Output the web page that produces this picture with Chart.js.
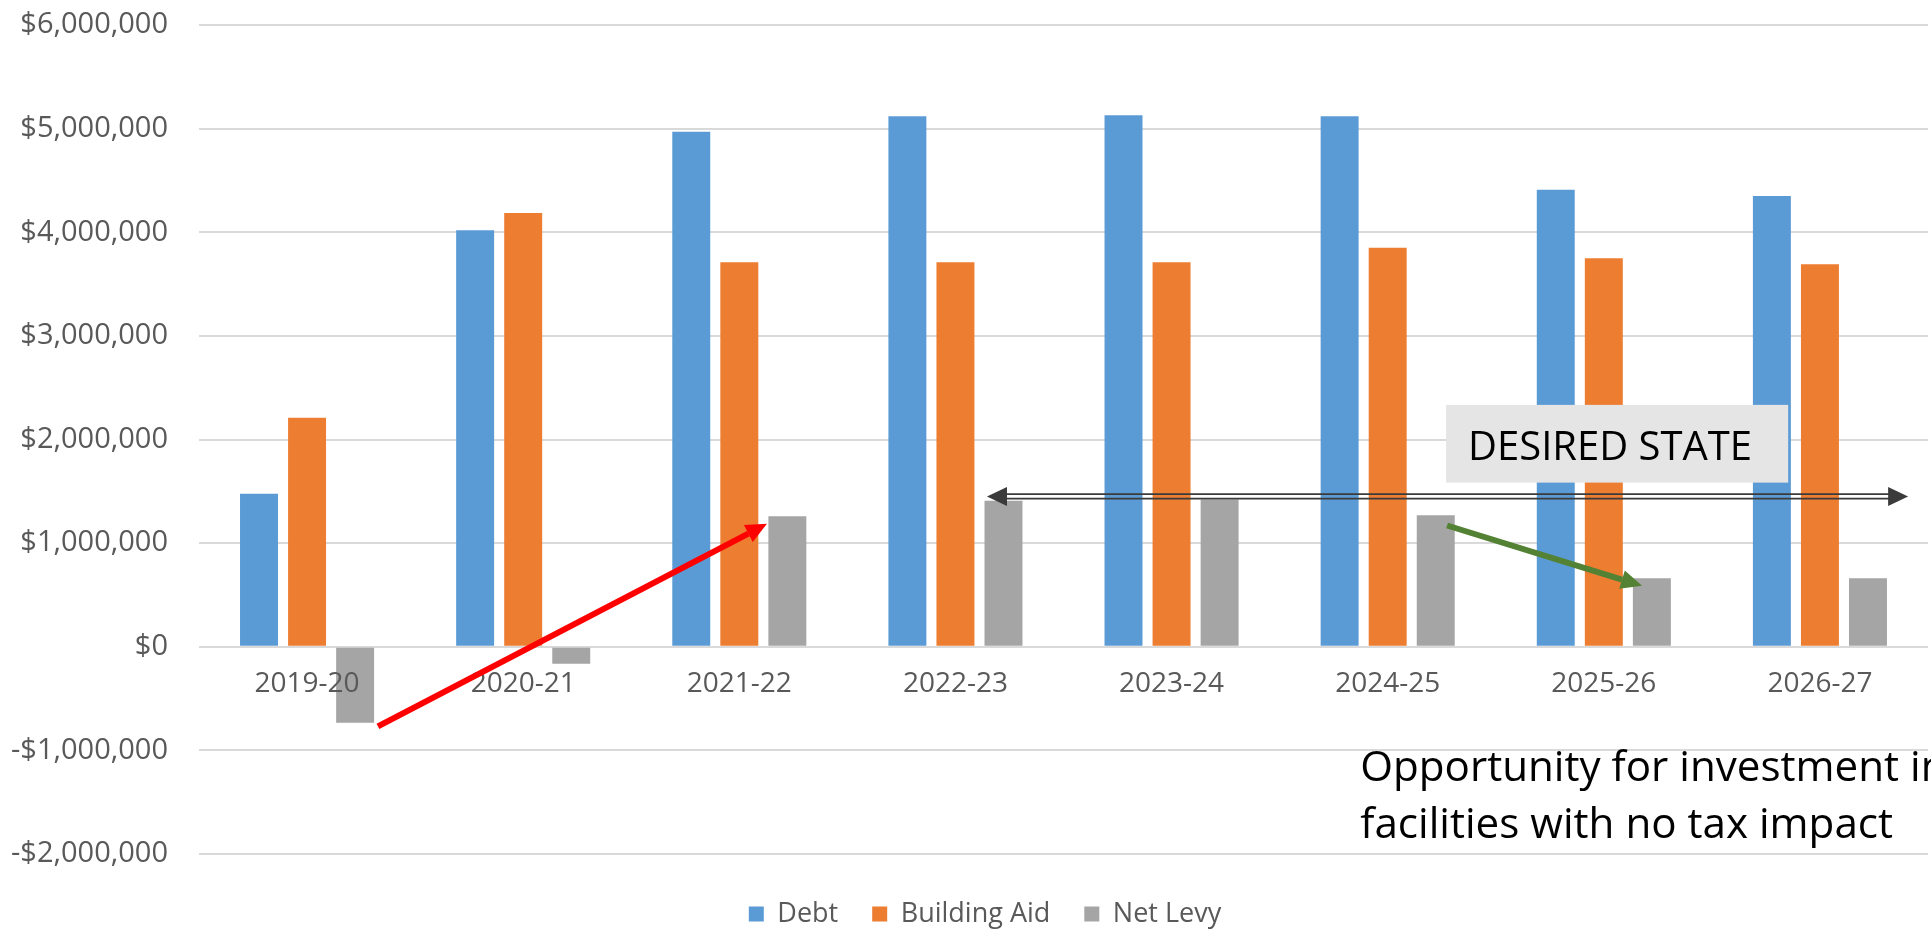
<!DOCTYPE html>
<html>
<head>
<meta charset="utf-8">
<script src="https://cdn.jsdelivr.net/npm/chart.js@4.4.1/dist/chart.umd.min.js"></script>
<style>
  html, body { margin: 0; padding: 0; background: #ffffff; }
  canvas { display: block; }
</style>
</head>
<body>
<canvas id="c" width="1931" height="930"></canvas>
<script>
// ---- data ----
const categories = ['2019-20', '2020-21', '2021-22', '2022-23', '2023-24', '2024-25', '2025-26', '2026-27'];
const debt        = [1476000, 4020000, 4970000, 5120000, 5130000, 5120000, 4410000, 4350000];
const buildingAid = [2210000, 4185000, 3710000, 3710000, 3710000, 3850000, 3750000, 3690000];
const netLevy     = [-734000, -165000, 1260000, 1410000, 1420000, 1270000, 660000, 660000];
const seriesNames = ['Debt', 'Building Aid', 'Net Levy'];
const yTicks = { min: -2000000, max: 6000000, step: 1000000 };

// annotation anchors, in data coordinates (category index, dollar value)
const redArrow   = { from: [0.328, -768000], to: [2.128, 1186000] };
const greenArrow = { from: [5.275, 1170000], to: [6.177, 588000] };
const desiredArrow = { from: [3.146, 1451000], to: [7.408, 1451000] };
const desiredBox = { x0: 5.270, x1: 6.853, yTop: 2334000, yBottom: 1584000, text: 'DESIRED STATE' };
const opportunity = { x: 4.873, line1Y: -1299000, line2Y: -1842000,
  lines: ['Opportunity for investment in', 'facilities with no tax impact'] };

const FONT = "'Open Sans', 'Noto Sans', sans-serif";
Chart.defaults.font.family = FONT;

function fmtMoney(v) {
  const s = '$' + Math.abs(v).toLocaleString('en-US');
  return v < 0 ? '-' + s : s;
}

function drawArrow(ctx, x1, y1, x2, y2, color, width, headLen, headW) {
  const ang = Math.atan2(y2 - y1, x2 - x1);
  const bx = x2 - headLen * Math.cos(ang), by = y2 - headLen * Math.sin(ang);
  ctx.save();
  ctx.strokeStyle = color; ctx.fillStyle = color; ctx.lineWidth = width; ctx.lineCap = 'butt';
  ctx.beginPath(); ctx.moveTo(x1, y1); ctx.lineTo(bx, by); ctx.stroke();
  const nx = -Math.sin(ang), ny = Math.cos(ang);
  ctx.beginPath();
  ctx.moveTo(x2, y2);
  ctx.lineTo(bx + nx * headW / 2, by + ny * headW / 2);
  ctx.lineTo(bx - nx * headW / 2, by - ny * headW / 2);
  ctx.closePath(); ctx.fill();
  ctx.restore();
}

function fitFont(ctx, text, targetWidth) {
  ctx.font = '40px ' + FONT;
  const w = ctx.measureText(text).width;
  return 40 * targetWidth / w;
}

const annotationsPlugin = {
  id: 'annotations',
  afterLayout(chart) {
    // let the y-axis labels use the space left of the layout padding (no clipping)
    chart.scales.y.left = 0;
  },
  afterDraw(chart) {
    const ctx = chart.ctx, X = chart.scales.x, Y = chart.scales.y;
    const px = i => X.getPixelForValue(i);
    const py = v => Y.getPixelForValue(v);

    // red arrow
    drawArrow(ctx, px(redArrow.from[0]), py(redArrow.from[1]), px(redArrow.to[0]), py(redArrow.to[1]),
      '#FF0000', 6, 21, 19);
    // green arrow
    drawArrow(ctx, px(greenArrow.from[0]), py(greenArrow.from[1]), px(greenArrow.to[0]), py(greenArrow.to[1]),
      '#548235', 6, 21, 19);

    // double-line arrow (both ends)
    const ax0 = px(desiredArrow.from[0]), ax1 = px(desiredArrow.to[0]), ay = py(desiredArrow.from[1]);
    const head = 20, hw = 19, col = '#3b3b3b';
    ctx.save();
    ctx.strokeStyle = col; ctx.lineWidth = 1.8;
    [-2.2, 2.2].forEach(d => {
      ctx.beginPath(); ctx.moveTo(ax0 + head - 2, ay + d); ctx.lineTo(ax1 - head + 2, ay + d); ctx.stroke();
    });
    ctx.fillStyle = col;
    ctx.beginPath(); ctx.moveTo(ax1, ay); ctx.lineTo(ax1 - head, ay - hw / 2); ctx.lineTo(ax1 - head, ay + hw / 2); ctx.closePath(); ctx.fill();
    ctx.beginPath(); ctx.moveTo(ax0, ay); ctx.lineTo(ax0 + head, ay - hw / 2); ctx.lineTo(ax0 + head, ay + hw / 2); ctx.closePath(); ctx.fill();
    ctx.restore();

    // DESIRED STATE box
    const bx0 = px(desiredBox.x0), bx1 = px(desiredBox.x1), by0 = py(desiredBox.yTop), by1 = py(desiredBox.yBottom);
    ctx.save();
    ctx.fillStyle = '#e5e5e5';
    ctx.fillRect(bx0, by0, bx1 - bx0, by1 - by0);
    const fs = fitFont(ctx, desiredBox.text, 284);
    ctx.font = fs + 'px ' + FONT;
    ctx.fillStyle = '#000000';
    ctx.textBaseline = 'alphabetic'; ctx.textAlign = 'left';
    ctx.fillText(desiredBox.text, bx0 + 22, by0 + (by1 - by0) * 0.705);
    ctx.restore();

    // Opportunity text
    ctx.save();
    const fs2 = fitFont(ctx, opportunity.lines[1], 533);
    ctx.font = fs2 + 'px ' + FONT;
    ctx.fillStyle = '#000000';
    ctx.textBaseline = 'alphabetic'; ctx.textAlign = 'left';
    ctx.fillText(opportunity.lines[0], px(opportunity.x), py(opportunity.line1Y));
    ctx.fillText(opportunity.lines[1], px(opportunity.x), py(opportunity.line2Y));
    ctx.restore();
  }
};

const colors = ['#5B9BD5', '#ED7D31', '#A5A5A5'];
const seriesData = [debt, buildingAid, netLevy];

new Chart(document.getElementById('c'), {
  type: 'bar',
  data: {
    labels: categories,
    datasets: seriesNames.map((name, i) => ({
      label: name,
      data: seriesData[i],
      backgroundColor: colors[i],
      borderWidth: 0,
      categoryPercentage: 0.667,
      barPercentage: 0.79
    }))
  },
  options: {
    responsive: false,
    animation: false,
    devicePixelRatio: 1,
    layout: { padding: { top: 25, right: 3, bottom: 0, left: 42 } },
    plugins: {
      tooltip: { enabled: false },
      legend: {
        position: 'bottom',
        maxHeight: 76,
        title: { display: true, text: '', font: { size: 10, lineHeight: '12.5px' }, padding: 0 },
        labels: {
          boxWidth: 15, boxHeight: 15, padding: 34,
          color: '#595959',
          font: { size: 27, family: FONT }
        }
      }
    },
    scales: {
      x: {
        position: { y: 0 },
        grid: { display: false, drawTicks: false },
        border: { display: false },
        ticks: { z: 1, color: '#595959', font: { size: 28, family: FONT }, padding: 20, maxRotation: 0 }
      },
      y: {
        min: yTicks.min, max: yTicks.max,
        afterFit(scale) { scale.width = 157; },
        grid: { color: '#d9d9d9', lineWidth: 2, drawTicks: true, tickLength: 31, tickColor: 'rgba(0,0,0,0)' },
        border: { display: false },
        ticks: {
          stepSize: yTicks.step,
          color: '#595959',
          font: { size: 29, family: FONT },
          padding: 0,
          callback: v => fmtMoney(v)
        }
      }
    }
  },
  plugins: [annotationsPlugin]
});
</script>
</body>
</html>
